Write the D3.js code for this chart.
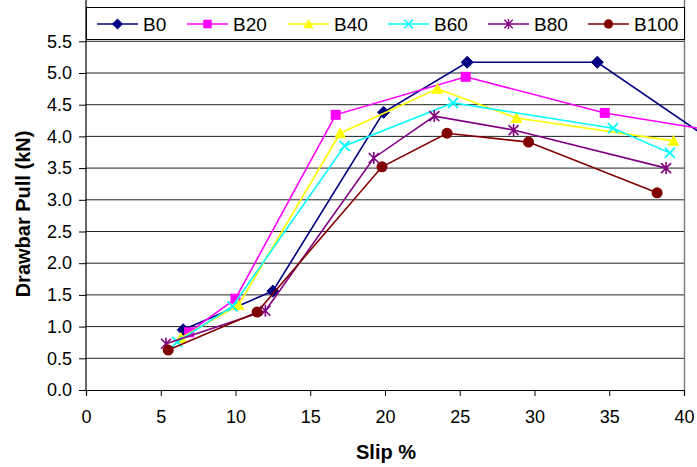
<!DOCTYPE html>
<html>
<head>
<meta charset="utf-8">
<script src="https://cdn.jsdelivr.net/npm/d3@7"></script>
<style>
  body { margin: 0; background: #fff; }
  svg { display: block; font-family: "Liberation Sans", Arial, sans-serif; }
</style>
</head>
<body>
<div id="chart"></div>
<script>
// series names and colours
var seriesNames = ["B0", "B20", "B40", "B60", "B80", "B100"];
var seriesColors = ["#000080", "#ff00ff", "#ffff00", "#00ffff", "#800080", "#800000"];
var seriesMarkers = ["diamond", "square", "triangle", "cross", "star", "circle"];

// slip % (x) and drawbar pull kN (y) per series
var slipB0 = [6.5, 12.5, 19.9, 25.5, 34.2, 42.0];
var pullB0 = [0.95, 1.56, 4.38, 5.17, 5.17, 3.91];
var slipB20 = [6.9, 10.0, 16.7, 25.4, 34.7, 42.0];
var pullB20 = [0.91, 1.44, 4.34, 4.94, 4.37, 4.09];
var slipB40 = [6.35, 10.2, 17.0, 23.5, 28.8, 39.3];
var pullB40 = [0.82, 1.34, 4.05, 4.75, 4.29, 3.93];
var slipB60 = [6.1, 9.8, 17.3, 24.55, 35.25, 39.05];
var pullB60 = [0.76, 1.32, 3.85, 4.53, 4.13, 3.74];
var slipB80 = [5.35, 12.0, 19.25, 23.3, 28.6, 38.8];
var pullB80 = [0.73, 1.25, 3.66, 4.32, 4.10, 3.50];
var slipB100 = [5.5, 11.45, 19.8, 24.15, 29.6, 38.2];
var pullB100 = [0.63, 1.23, 3.52, 4.05, 3.91, 3.11];

var xTicks = [0, 5, 10, 15, 20, 25, 30, 35, 40];
var yTicks = [0, 0.5, 1, 1.5, 2, 2.5, 3, 3.5, 4, 4.5, 5, 5.5];

var allSlip = [slipB0, slipB20, slipB40, slipB60, slipB80, slipB100];
var allPull = [pullB0, pullB20, pullB40, pullB60, pullB80, pullB100];

var width = 697, height = 467;
var left = 86, right = 684, bottom = 390;

var svg = d3.select("#chart").append("svg")
    .attr("width", width)
    .attr("height", height);

var x = d3.scaleLinear().domain([0, 40]).range([left, right]);
var y = d3.scaleLinear().domain([0, 6]).range([bottom, bottom - 6 * 63.4]);

// horizontal grid
svg.append("g")
  .selectAll("line")
  .data(yTicks.slice(1))
  .enter().append("line")
    .attr("x1", left).attr("x2", right)
    .attr("y1", d => y(d)).attr("y2", d => y(d))
    .attr("stroke", "#222")
    .attr("stroke-width", 1);

// plot frame (right side)
svg.append("line")
  .attr("x1", right + 0.5).attr("x2", right + 0.5)
  .attr("y1", 0).attr("y2", bottom)
  .attr("stroke", "#808080")
  .attr("stroke-width", 1.5);

// axes
var xAxis = svg.append("g")
    .attr("transform", "translate(0," + bottom + ")")
    .call(d3.axisBottom(x).tickValues(xTicks).tickSize(6).tickPadding(14).tickFormat(d3.format("d")));
var yAxis = svg.append("g")
    .attr("transform", "translate(" + left + ",0)")
    .call(d3.axisLeft(y).tickValues(yTicks).tickSize(7).tickPadding(7).tickFormat(d3.format(".1f")));

[xAxis, yAxis].forEach(function(a) {
  a.select(".domain").attr("stroke", "#000").attr("stroke-width", 1.2);
  a.selectAll(".tick line").attr("stroke", "#000");
  a.selectAll(".tick text")
    .attr("fill", "#000")
    .style("font-family", "'Liberation Sans', Arial, sans-serif")
    .style("font-size", "18px");
});
yAxis.select(".domain").attr("d", "M0,0V" + bottom);

// axis titles
svg.append("text")
  .attr("x", 386).attr("y", 459)
  .attr("text-anchor", "middle")
  .style("font-weight", "bold")
  .style("font-size", "20px")
  .text("Slip %");

svg.append("text")
  .attr("transform", "translate(30,214) rotate(-90)")
  .attr("text-anchor", "middle")
  .style("font-weight", "bold")
  .style("font-size", "20px")
  .text("Drawbar Pull (kN)");

function drawMarker(g, kind, color) {
  if (kind === "diamond") {
    g.append("path").attr("d", "M0,-6L6,0L0,6L-6,0Z").attr("fill", color).attr("stroke", color);
  } else if (kind === "square") {
    g.append("rect").attr("x", -5).attr("y", -5).attr("width", 10).attr("height", 10).attr("fill", color);
  } else if (kind === "triangle") {
    g.append("path").attr("d", "M0,-6L6,5L-6,5Z").attr("fill", color);
  } else if (kind === "cross") {
    g.append("path").attr("d", "M-5,-5L5,5M-5,5L5,-5").attr("stroke", color).attr("stroke-width", 1.8);
  } else if (kind === "star") {
    g.append("path").attr("d", "M-5,-5L5,5M-5,5L5,-5M0,-6V6").attr("stroke", color).attr("stroke-width", 1.6);
  } else {
    g.append("circle").attr("r", 5.5).attr("fill", color);
  }
}

var line = d3.line().x(d => x(d[0])).y(d => y(d[1]));

seriesNames.forEach(function(name, i) {
  var pts = allSlip[i].map((s, j) => [s, allPull[i][j]]);
  var color = seriesColors[i];
  svg.append("path")
    .attr("d", line(pts))
    .attr("fill", "none")
    .attr("stroke", color)
    .attr("stroke-width", 1.6);
  pts.forEach(function(p) {
    var g = svg.append("g").attr("transform", "translate(" + x(p[0]) + "," + y(p[1]) + ")");
    drawMarker(g, seriesMarkers[i], color);
  });
});

// legend
svg.append("rect")
  .attr("x", 86.5).attr("y", 7.5)
  .attr("width", 598).attr("height", 32)
  .attr("fill", "#fff")
  .attr("stroke", "#000")
  .attr("stroke-width", 1);

var legendX = [97, 187, 288, 388, 488, 588];
seriesNames.forEach(function(name, i) {
  var g = svg.append("g").attr("transform", "translate(" + legendX[i] + ",24)");
  g.append("line").attr("x1", 0).attr("x2", 41)
    .attr("stroke", seriesColors[i]).attr("stroke-width", 1.6);
  var m = g.append("g").attr("transform", "translate(20.5,0) scale(0.85)");
  drawMarker(m, seriesMarkers[i], seriesColors[i]);
  g.append("text")
    .attr("x", 46).attr("y", 0)
    .attr("dy", "0.35em")
    .style("font-size", "19px")
    .text(name);
});
</script>
</body>
</html>
